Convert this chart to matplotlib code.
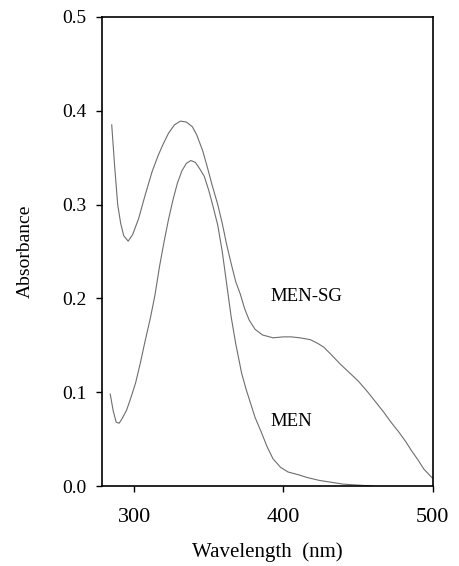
import numpy as np
import matplotlib
matplotlib.use('Agg')
import matplotlib.pyplot as plt

""" datos de los espectros """
# MEN-SG
wl_mensg = [285, 287, 289, 291, 293, 296, 299, 303, 307, 312, 316, 319, 323, 327,
            331, 335, 339, 342, 346, 349, 352, 356, 359, 362, 365, 368, 371, 374,
            377, 381, 386, 393, 400, 405, 411, 418, 423, 427, 432, 438, 444, 450,
            456, 462, 467, 472, 477, 482, 486, 490, 494, 497, 500]
abs_mensg = [0.385, 0.340, 0.300, 0.280, 0.267, 0.261, 0.268, 0.285, 0.308, 0.335,
             0.352, 0.363, 0.376, 0.385, 0.389, 0.388, 0.383, 0.374, 0.357, 0.340,
             0.322, 0.300, 0.280, 0.257, 0.237, 0.218, 0.205, 0.189, 0.177, 0.167,
             0.161, 0.158, 0.159, 0.159, 0.158, 0.156, 0.152, 0.148, 0.140, 0.130,
             0.121, 0.112, 0.101, 0.089, 0.079, 0.068, 0.058, 0.047, 0.037, 0.028,
             0.018, 0.013, 0.008]

# MEN
wl_men = [284, 286, 288, 290, 292, 295, 298, 301, 304, 307, 311, 314, 317, 320,
          323, 326, 329, 332, 335, 338, 341, 344, 347, 350, 353, 356, 359, 362,
          365, 368, 372, 375, 378, 381, 385, 389, 393, 398, 403, 410, 416, 424,
          432, 440, 450, 460]
abs_men = [0.098, 0.080, 0.068, 0.067, 0.072, 0.081, 0.095, 0.110, 0.130, 0.152,
           0.180, 0.204, 0.234, 0.260, 0.284, 0.305, 0.323, 0.336, 0.344, 0.347,
           0.345, 0.338, 0.330, 0.315, 0.297, 0.278, 0.250, 0.215, 0.180, 0.152,
           0.120, 0.103, 0.088, 0.073, 0.058, 0.042, 0.029, 0.020, 0.015, 0.012,
           0.009, 0.006, 0.004, 0.002, 0.001, 0.0]

x_ticks = [300, 400, 500]
y_ticks = [0.0, 0.1, 0.2, 0.3, 0.4, 0.5]

""" graficar """
plt.rcParams['font.family'] = ['Liberation Serif', 'DejaVu Serif']

fig = plt.figure(figsize=(4.59, 5.66), dpi=100)
ax = fig.add_axes([0.2216, 0.1413, 0.7214, 0.8287])

ax.plot(wl_mensg, abs_mensg, color='#6e6e6e', linewidth=0.8)
ax.plot(wl_men, abs_men, color='#6e6e6e', linewidth=0.8)

ax.text(391, 0.2015, 'MEN-SG', fontsize=13.5, va='center', ha='left')
ax.text(391, 0.069, 'MEN', fontsize=13.5, va='center', ha='left')

ax.set_xlim(278.3, 500)
ax.set_ylim(0, 0.5)
ax.set_xticks(x_ticks)
ax.set_yticks(y_ticks)
ax.set_yticklabels([f'{v:.1f}' for v in y_ticks])
ax.tick_params(axis='x', direction='out', length=4, width=1, labelsize=16, pad=12)
ax.tick_params(axis='y', direction='out', length=4, width=1, labelsize=14, pad=7)

for s in ax.spines.values():
    s.set_linewidth(1.2)

ax.set_xlabel('Wavelength  (nm)', fontsize=15, labelpad=11)
ax.set_ylabel('Absorbance', fontsize=14, labelpad=20)

fig.savefig('out.png', dpi=100)
